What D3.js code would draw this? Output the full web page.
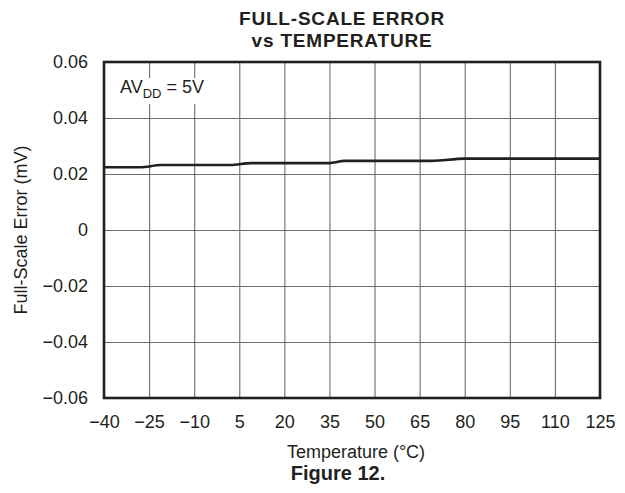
<!doctype html>
<html lang="en">
  <head>
    <meta charset="UTF-8" />
    <title>Full-Scale Error vs Temperature</title>
    <style>
      body {
        margin: 0;
        background: #fff;
      }
      svg text {
        font-family: "Liberation Sans", Arial, sans-serif;
        fill: #231f20;
      }
      .grid line {
        stroke: #6d6d6d;
        stroke-width: 1.1;
      }
      .grid path {
        display: none;
      }
      .axis path,
      .axis line {
        display: none;
      }
      .axis text {
        font-size: 18px;
      }
    </style>
  </head>
  <body>
    <div id="chart"></div>

    <script src="https://cdn.jsdelivr.net/npm/d3@7"></script>
    <script>
      // temperature (°C) and full-scale error (mV)
      const temps = [-40, -28, -21, 2, 9, 35, 40, 69, 80, 125];
      const errors = [0.0224, 0.0224, 0.0232, 0.0232, 0.0239, 0.0239, 0.0247, 0.0247, 0.0255, 0.0255];

      const xTicks = [-40, -25, -10, 5, 20, 35, 50, 65, 80, 95, 110, 125];
      const yTicks = [-0.06, -0.04, -0.02, 0, 0.02, 0.04, 0.06];

      const width = 625, height = 493;
      const margin = { top: 62, right: 25, bottom: 95, left: 104 };
      const w = width - margin.left - margin.right;
      const h = height - margin.top - margin.bottom;

      const svg = d3.select("#chart").append("svg")
          .attr("width", width)
          .attr("height", height);

      const g = svg.append("g")
          .attr("transform", `translate(${margin.left},${margin.top})`);

      const x = d3.scaleLinear().domain([-40, 125]).range([0, w]);
      const y = d3.scaleLinear().domain([-0.06, 0.06]).range([h, 0]);

      // grid
      g.append("g").attr("class", "grid")
          .attr("transform", `translate(0,${h})`)
          .call(d3.axisBottom(x).tickValues(xTicks).tickSize(-h).tickFormat(""));
      g.append("g").attr("class", "grid")
          .call(d3.axisLeft(y).tickValues(yTicks).tickSize(-w).tickFormat(""));

      // tick labels
      const fmtY = d => d === 0 ? "0" : d3.format(".2f")(d);
      g.append("g").attr("class", "axis")
          .attr("transform", `translate(0,${h})`)
          .call(d3.axisBottom(x).tickValues(xTicks).tickSize(0).tickPadding(17));
      g.append("g").attr("class", "axis")
          .call(d3.axisLeft(y).tickValues(yTicks).tickSize(0).tickPadding(16).tickFormat(fmtY));

      // annotation with white backing
      g.append("rect")
          .attr("x", 12).attr("y", 16)
          .attr("width", 98).attr("height", 26)
          .attr("fill", "#fff");
      const note = g.append("text")
          .attr("x", 16).attr("y", 31)
          .style("font-size", "18px");
      note.append("tspan").text("AV");
      note.append("tspan").attr("dy", 5).style("font-size", "13px").text("DD");
      note.append("tspan").attr("dy", -5).text(" = 5V");

      // data line
      const line = d3.line()
          .x((d, i) => x(temps[i]))
          .y(d => y(d))
          .curve(d3.curveMonotoneX);
      g.append("path")
          .datum(errors)
          .attr("fill", "none")
          .attr("stroke", "#231f20")
          .attr("stroke-width", 2.6)
          .attr("d", line);

      // frame
      g.append("rect")
          .attr("width", w).attr("height", h)
          .attr("fill", "none")
          .attr("stroke", "#231f20")
          .attr("stroke-width", 2.6);

      // title
      const titleStyle = t => t
          .attr("text-anchor", "middle")
          .style("font-size", "19px").style("font-weight", "bold")
          .style("letter-spacing", "0.8px");
      svg.append("text").attr("x", 342).attr("y", 25)
          .call(titleStyle).text("FULL-SCALE ERROR");
      svg.append("text").attr("x", 342).attr("y", 47)
          .call(titleStyle).text("vs TEMPERATURE");

      svg.append("text")
          .attr("transform", `translate(27,${margin.top + h / 2}) rotate(-90)`)
          .attr("text-anchor", "middle")
          .style("font-size", "18px")
          .text("Full-Scale Error (mV)");

      svg.append("text")
          .attr("x", 356).attr("y", 458)
          .attr("text-anchor", "middle")
          .style("font-size", "18px")
          .text("Temperature (°C)");

      svg.append("text")
          .attr("x", 338).attr("y", 480)
          .attr("text-anchor", "middle")
          .style("font-size", "20px").style("font-weight", "bold")
          .text("Figure 12.");
    </script>
  </body>
</html>
